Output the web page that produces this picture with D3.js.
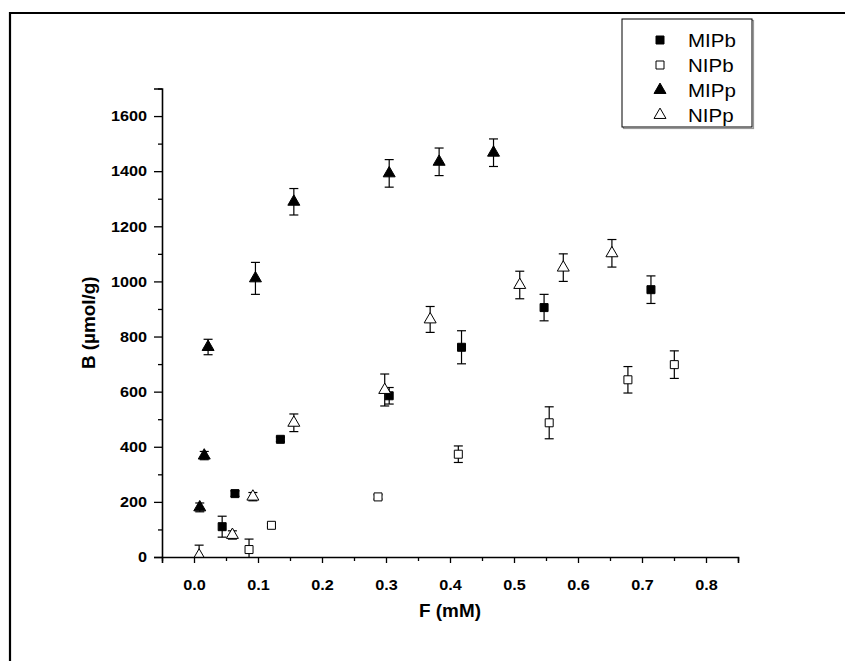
<!DOCTYPE html>
<html>
<head>
<meta charset="utf-8">
<script src="https://cdn.jsdelivr.net/npm/d3@7"></script>
<style>
  body { margin: 0; background: #fff; }
  svg { display: block; }
  text { font-family: "Liberation Sans", Arial, sans-serif; }
</style>
</head>
<body>
<svg id="chart" width="845" height="661"></svg>
<script>
// ---- data ----
const seriesNames = ["MIPb", "NIPb", "MIPp", "NIPp"];

const mipbX = [0.044, 0.064, 0.135, 0.305, 0.418, 0.547, 0.714];
const mipbY = [110, 230, 427, 585, 761, 905, 970];
const mipbErr = [38, 10, 8, 30, 60, 48, 50];

const nipbX = [0.086, 0.121, 0.2875, 0.413, 0.555, 0.678, 0.7505];
const nipbY = [27, 115, 218, 373, 487, 643, 698];
const nipbErr = [38, 6, 8, 30, 58, 48, 50];

const mippX = [0.009, 0.016, 0.022, 0.096, 0.156, 0.305, 0.383, 0.468];
const mippY = [180, 368, 762, 1011, 1289, 1392, 1434, 1467];
const mippErr = [16, 15, 28, 58, 48, 50, 50, 50];

const nippX = [0.008, 0.060, 0.092, 0.156, 0.298, 0.369, 0.509, 0.577, 0.653];
const nippY = [5, 80, 219, 487, 606, 862, 987, 1050, 1102];
const nippErr = [38, 15, 15, 32, 58, 47, 50, 50, 50];

const xTicks = [0, 0.1, 0.2, 0.3, 0.4, 0.5, 0.6, 0.7, 0.8];
const xMinorTicks = [-0.05, 0.05, 0.15, 0.25, 0.35, 0.45, 0.55, 0.65, 0.75, 0.85];
const yTicks = [0, 200, 400, 600, 800, 1000, 1200, 1400, 1600];
const yMinorTicks = [100, 300, 500, 700, 900, 1100, 1300, 1500, 1700];

const xTitle = "F (mM)";
const yTitle = "B (µmol/g)";

// ---- chart ----
const SX = 1.08; // horizontal text stretch seen in the reference
const svg = d3.select("#chart");

const x = d3.scaleLinear().domain([-0.05, 0.85]).range([162, 738]);
const y = d3.scaleLinear().domain([0, 1700]).range([557, 88.5]);

// outer frame (top & left edges)
svg.append("path")
  .attr("d", "M10,661 L10,13 L845,13")
  .attr("fill", "none").attr("stroke", "#000").attr("stroke-width", 2.2);

// axes
const xAxis = svg.append("g").attr("transform", `translate(0,${y(0)})`)
  .call(d3.axisBottom(x).tickValues(xTicks).tickFormat(d3.format(".1f")).tickSize(6).tickPadding(16));
const xMinor = svg.append("g").attr("transform", `translate(0,${y(0)})`)
  .call(d3.axisBottom(x).tickValues(xMinorTicks).tickFormat("").tickSize(4));
const yAxis = svg.append("g").attr("transform", `translate(${x(-0.05)},0)`)
  .call(d3.axisLeft(y).tickValues(yTicks).tickFormat(d3.format("d")).tickSize(8).tickPadding(7));
const yMinor = svg.append("g").attr("transform", `translate(${x(-0.05)},0)`)
  .call(d3.axisLeft(y).tickValues(yMinorTicks).tickFormat("").tickSize(4));

[xAxis, xMinor, yAxis, yMinor].forEach(g => {
  g.select(".domain").attr("stroke", "#000").attr("stroke-width", 1.6);
  g.selectAll(".tick line").attr("stroke", "#000").attr("stroke-width", 1.3);
  g.selectAll(".tick text")
    .attr("fill", "#000")
    .style("font-family", '"Liberation Sans", Arial, sans-serif')
    .style("font-size", "15px").style("font-weight", "bold")
    .attr("x", function () { return (+d3.select(this).attr("x") || 0) / SX; })
    .attr("transform", `scale(${SX},1)`);
});
xMinor.select(".domain").remove();
yMinor.select(".domain").remove();

// titles
svg.append("text")
  .attr("transform", `translate(${(x(-0.05) + x(0.85)) / 2},617) scale(${SX},1)`)
  .attr("text-anchor", "middle")
  .style("font-size", "17.5px").style("font-weight", "bold")
  .text(xTitle);
svg.append("text")
  .attr("transform", `translate(95,${(y(0) + y(1700)) / 2}) rotate(-90) scale(${SX},1)`)
  .attr("text-anchor", "middle")
  .style("font-size", "17.5px").style("font-weight", "bold")
  .text(yTitle);

// series
const series = [
  { name: seriesNames[0], xs: mipbX, ys: mipbY, es: mipbErr, shape: d3.symbolSquare, size: 64, fill: "#000" },
  { name: seriesNames[1], xs: nipbX, ys: nipbY, es: nipbErr, shape: d3.symbolSquare, size: 64, fill: "#fff" },
  { name: seriesNames[2], xs: mippX, ys: mippY, es: mippErr, shape: d3.symbolTriangle, size: 62, fill: "#000" },
  { name: seriesNames[3], xs: nippX, ys: nippY, es: nippErr, shape: d3.symbolTriangle, size: 62, fill: "#fff" }
];

const capW = 4.5;
series.forEach(s => {
  const pts = s.xs.map((v, i) => ({ x: v, y: s.ys[i], e: s.es[i] }));
  const g = svg.append("g");
  const eb = g.selectAll("g.eb").data(pts).join("g").attr("class", "eb")
    .attr("stroke", "#000").attr("stroke-width", 1.2);
  eb.append("line")
    .attr("x1", d => x(d.x)).attr("x2", d => x(d.x))
    .attr("y1", d => y(Math.max(0, d.y - d.e))).attr("y2", d => y(d.y + d.e));
  eb.append("line")
    .attr("x1", d => x(d.x) - capW).attr("x2", d => x(d.x) + capW)
    .attr("y1", d => y(d.y + d.e)).attr("y2", d => y(d.y + d.e));
  eb.filter(d => d.y - d.e > 0).append("line")
    .attr("x1", d => x(d.x) - capW).attr("x2", d => x(d.x) + capW)
    .attr("y1", d => y(d.y - d.e)).attr("y2", d => y(d.y - d.e));
  g.selectAll("path.mk").data(pts).join("path").attr("class", "mk")
    .attr("d", d3.symbol().type(s.shape).size(s.size))
    .attr("transform", d => `translate(${x(d.x)},${y(d.y)})`)
    .attr("fill", s.fill).attr("stroke", "#000").attr("stroke-width", 1);
});

// white-out below axis and redraw x axis line on top (hides the low triangle's base like the reference)
svg.append("rect").attr("x", x(-0.05) + 1).attr("y", y(0) + 1).attr("width", x(0.85) - x(-0.05)).attr("height", 3)
  .attr("fill", "#fff");
xAxis.raise(); xMinor.raise();

// legend
const lg = svg.append("g");
lg.append("rect").attr("x", 623.5).attr("y", 20.5).attr("width", 130).attr("height", 108)
  .attr("fill", "none").attr("stroke", "#999").attr("stroke-width", 1.2);
lg.append("rect").attr("x", 622).attr("y", 19).attr("width", 130).attr("height", 108)
  .attr("fill", "#fff").attr("stroke", "#000").attr("stroke-width", 1);
series.forEach((s, i) => {
  const cy = 40 + i * 25;
  lg.append("path")
    .attr("d", d3.symbol().type(s.shape).size(s.size)())
    .attr("transform", `translate(660,${cy})`)
    .attr("fill", s.fill).attr("stroke", "#000").attr("stroke-width", 1);
  lg.append("text")
    .attr("transform", `translate(688,${cy + 7}) scale(${SX},1)`)
    .style("font-size", "19px")
    .text(s.name);
});
</script>
</body>
</html>
